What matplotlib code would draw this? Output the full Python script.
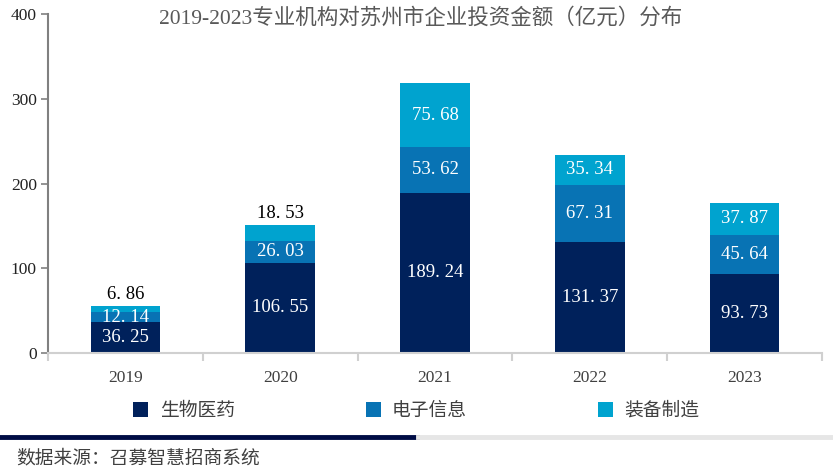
import matplotlib
matplotlib.use("Agg")
import matplotlib.pyplot as plt
from matplotlib.lines import Line2D
from matplotlib.patches import Patch
import numpy as np

plt.rcParams['font.family'] = ['Liberation Serif', 'Noto Sans CJK SC', 'DejaVu Sans']

years = ['2019', '2020', '2021', '2022', '2023']
bio = [36.25, 106.55, 189.24, 131.37, 93.73]
elec = [12.14, 26.03, 53.62, 67.31, 45.64]
equip = [6.86, 18.53, 75.68, 35.34, 37.87]
series_names = ['生物医药', '电子信息', '装备制造']
colors = ['#00215B', '#0873B4', '#00A3CF']
title = '2019-2023专业机构对苏州市企业投资金额（亿元）分布'
source = '数据来源：召募智慧招商系统'

fig = plt.figure(figsize=(8.33, 4.70), dpi=100)
ax = fig.add_axes([48/833, 1-353/470, (822-48)/833, (353-14)/470])

x = np.arange(len(years))
width = 0.45
bottom = np.zeros(len(years))
series = [bio, elec, equip]
for si, (vals, c) in enumerate(zip(series, colors)):
    vals = np.array(vals)
    ax.bar(x, vals, width, bottom=bottom, color=c, label=series_names[si], zorder=2)
    for i, (v, b) in enumerate(zip(vals, bottom)):
        if si == len(series) - 1 and v < 20:
            ax.text(x[i], b + v + 4, f'{v:.2f}'.replace('.', '. '), ha='center', va='bottom',
                    color='black', fontsize=13.5, family=['Liberation Serif'])
        else:
            ax.text(x[i], b + v/2, f'{v:.2f}'.replace('.', '. '), ha='center', va='center',
                    color='white', fontsize=13.5, family=['Liberation Serif'])
    bottom = bottom + vals

ax.set_xlim(-0.5, len(years) - 0.5)
ax.set_ylim(0, 400)
ax.set_yticks([0, 100, 200, 300, 400])
ax.set_xticks(x)
ax.set_xticklabels(years)
ax.set_xticks(np.arange(len(years) + 1) - 0.5, minor=True)
ax.tick_params(axis='x', which='major', length=0, pad=12, labelsize=12.5, labelcolor='#404040')
ax.tick_params(axis='x', which='minor', length=6, color='#d0d0d0', width=1.5)
ax.tick_params(axis='y', length=5, color='#808080', width=1.2, labelsize=12.5, labelcolor='#222222', pad=3)

for s in ['top', 'right']:
    ax.spines[s].set_visible(False)
ax.spines['left'].set_color('#808080')
ax.spines['left'].set_linewidth(1.5)
ax.spines['bottom'].set_color('#d0d0d0')
ax.spines['bottom'].set_linewidth(1.5)

fig.text(0.505, 1 - 18/470, title, ha='center', va='center', fontsize=15.5, color='#595959')

handles = [Patch(facecolor=c, edgecolor='none') for c in colors]
fig.legend(handles, series_names, loc='center', bbox_to_anchor=(0.5, 1 - 411/470), ncol=3,
           frameon=False, fontsize=13.5, handlelength=0.8, handleheight=0.8, handletextpad=0.6,
           columnspacing=7.0, labelcolor='#404040')

fig.add_artist(Line2D([0, 417/833], [1 - 437/470]*2, color='#000C45', lw=3.5, transform=fig.transFigure))
fig.add_artist(Line2D([418/833, 1], [1 - 437/470]*2, color='#E6E6E6', lw=3.5, transform=fig.transFigure))
fig.text(16/833, 1 - 459/470, source, ha='left', va='center', fontsize=13.5, color='#404040')

fig.savefig('out.png', dpi=100)
